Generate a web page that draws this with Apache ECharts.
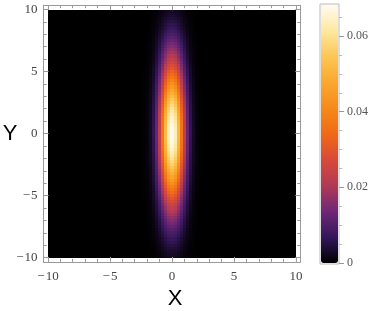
<!DOCTYPE html>
<html><head><meta charset="utf-8">
<script src="https://cdn.jsdelivr.net/npm/echarts@6/dist/echarts.min.js"></script>
<style>html,body{margin:0;padding:0;background:#fff}#c{width:374px;height:311px}</style>
</head><body><div id="c"></div><script>
// Sample x positions (cell centres)
const xCoords = [-10,-9.75,-9.5,-9.25,-9,-8.75,-8.5,-8.25,-8,-7.75,-7.5,-7.25,-7,-6.75,-6.5,-6.25,-6,-5.75,-5.5,-5.25,-5,-4.75,-4.5,-4.25,-4,-3.75,-3.5,-3.25,-3,-2.75,
 -2.5,-2.25,-2,-1.75,-1.5,-1.25,-1,-0.75,-0.5,-0.25,0,0.25,0.5,0.75,1,1.25,1.5,1.75,2,2.25,2.5,
 2.75,3,3.25,3.5,3.75,4,4.25,4.5,4.75,5,5.25,5.5,5.75,6,6.25,6.5,6.75,7,7.25,7.5,7.75,8,8.25,8.5,8.75,9,9.25,9.5,9.75,10];
// Relative brightness across x
const xRel = [0,0,0,0,0,0,0,0,0,0,0,0,0,0,0,0,0,0,0,0,0,0,0,0,0,0,0,0,0,0,
 0.001,0.004,0.013,0.04,0.09,0.19,0.34,0.54,0.76,0.93,1,0.93,0.76,0.54,0.34,0.19,0.09,0.04,0.013,0.004,0.001,
 0,0,0,0,0,0,0,0,0,0,0,0,0,0,0,0,0,0,0,0,0,0,0,0,0,0,0,0,0,0];
// Sample y positions (cell centres)
const yCoords = [-10,-9.75,-9.5,-9.25,-9,-8.75,-8.5,-8.25,-8,-7.75,-7.5,-7.25,-7,-6.75,-6.5,-6.25,-6,-5.75,-5.5,-5.25,-5,-4.75,-4.5,-4.25,-4,-3.75,-3.5,-3.25,-3,-2.75,-2.5,-2.25,-2,-1.75,-1.5,-1.25,-1,-0.75,-0.5,-0.25,0,
 0.25,0.5,0.75,1,1.25,1.5,1.75,2,2.25,2.5,2.75,3,3.25,3.5,3.75,4,4.25,4.5,4.75,5,5.25,5.5,5.75,6,6.25,6.5,6.75,7,7.25,7.5,7.75,8,8.25,8.5,8.75,9,9.25,9.5,9.75,10];
// Values along the centre column x = 0
const yPeak = [0.0025,0.003,0.0035,0.0043,0.0052,0.0062,0.0072,0.0084,0.0097,0.0111,0.0126,0.0142,0.0158,0.0175,0.0193,0.0213,0.0233,0.0254,0.0276,0.0299,
 0.0323,0.0348,0.0372,0.0397,0.0422,0.0447,0.0472,0.0497,0.052,0.0543,0.0565,0.0585,0.0604,0.0621,0.0636,0.0649,0.066,0.0669,0.0675,0.0679,0.068,
 0.0679,0.0675,0.0669,0.066,0.0649,0.0636,0.0621,0.0604,0.0585,0.0565,0.0543,0.052,0.0497,0.0472,0.0447,0.0422,0.0397,0.0372,0.0348,0.0323,
 0.0299,0.0276,0.0254,0.0233,0.0213,0.0193,0.0175,0.0158,0.0142,0.0126,0.0111,0.0097,0.0084,0.0072,0.0062,0.0052,0.0043,0.0035,0.003,0.0025];

const axisMajorTicks = [-10,-5,0,5,10];
const axisMinorTicks = [-9,-8,-7,-6,-4,-3,-2,-1,1,2,3,4,6,7,8,9];
const cbMajorTicks = [0,0.02,0.04,0.06];
const cbMinorTicks = [0.005,0.01,0.015,0.025,0.03,0.035,0.045,0.05,0.055,0.065];
const cbMax = 0.0682;
const palette = ['#000000','#34175a','#6f2777','#b03a55','#d8493a','#f06918','#f68a18','#faa82e','#fcc656','#fee8a0','#fffbf0'];

const cells = [];
for (let i = 0; i < xCoords.length; i++) {
  for (let j = 0; j < yCoords.length; j++) {
    cells.push([xCoords[i], yCoords[j], xRel[i] * yPeak[j]]);
  }
}
const halfX = 0.125, halfY = 0.125;
const minus = v => String(v).replace('-', '\u2212\u200A');
const frameCol = '#9a9a9a';
const labelFont = {fontFamily: '"Liberation Serif", "DejaVu Serif", serif', fontSize: 13, color: '#444'};

function frameAxis(dim, pos, ticks, len, withLine, withLabels) {
  return {
    type: 'value', gridIndex: 0, position: pos, min: -10.35, max: 10.35, z: 10,
    splitLine: {show: false},
    axisLine: {show: withLine, onZero: false, lineStyle: {color: frameCol, width: 1}},
    axisTick: {show: true, inside: true, length: len, customValues: ticks, lineStyle: {color: frameCol, width: 1}},
    axisLabel: withLabels ? Object.assign({show: true, customValues: ticks, formatter: minus, margin: dim === 'x' ? 8 : 6}, labelFont) : {show: false}
  };
}

const chart = echarts.init(document.getElementById('c'), null, {renderer: 'canvas'});
chart.setOption({
  animation: false,
  backgroundColor: '#fff',
  grid: [
    {left: 43.6, top: 5.2, width: 256.7, height: 256.7, containLabel: false},
    {left: 320, top: 4, width: 19, height: 260, show: true, borderColor: '#bbb', borderWidth: 1, backgroundColor: 'transparent'}
  ],
  xAxis: [
    frameAxis('x', 'bottom', axisMajorTicks, 5, true, true),
    frameAxis('x', 'bottom', axisMinorTicks, 3, false, false),
    frameAxis('x', 'top', axisMajorTicks, 5, true, false),
    frameAxis('x', 'top', axisMinorTicks, 3, false, false),
    {type: 'value', gridIndex: 1, show: false, min: 0, max: 1}
  ],
  yAxis: [
    frameAxis('y', 'left', axisMajorTicks, 5, true, true),
    frameAxis('y', 'left', axisMinorTicks, 3, false, false),
    frameAxis('y', 'right', axisMajorTicks, 5, true, false),
    frameAxis('y', 'right', axisMinorTicks, 3, false, false),
    {type: 'value', gridIndex: 1, position: 'right', min: -0.000264, max: 0.068464, z: 10,
     splitLine: {show: false},
     axisLine: {show: false, onZero: false},
     axisTick: {show: true, inside: false, length: 5, customValues: cbMajorTicks, lineStyle: {color: '#999'}},
     axisLabel: {show: true, customValues: cbMajorTicks, margin: 8, formatter: v => v === 0 ? '0' : v.toFixed(2),
       fontFamily: '"Liberation Serif", "DejaVu Serif", serif', fontSize: 12, color: '#555'}},
    {type: 'value', gridIndex: 1, position: 'right', min: -0.000264, max: 0.068464, z: 10,
     splitLine: {show: false}, axisLine: {show: false, onZero: false},
     axisTick: {show: true, inside: false, length: 3, customValues: cbMinorTicks, lineStyle: {color: '#bbb'}},
     axisLabel: {show: false}}
  ],
  visualMap: {
    type: 'continuous', seriesIndex: 0, dimension: 2, min: 0, max: cbMax,
    inRange: {color: palette}, orient: 'vertical',
    left: 321, top: 5, itemWidth: 17, itemHeight: 258, padding: 0,
    calculable: false, hoverLink: false, realtime: false
  },
  graphic: [
    {type: 'text', x: 10, y: 134, style: {text: 'Y', font: '22px "Liberation Sans", Arial, sans-serif', fill: '#000', align: 'center', verticalAlign: 'middle', textAlign: 'center', textVerticalAlign: 'middle'}},
    {type: 'text', x: 175, y: 299, style: {text: 'X', font: '22px "Liberation Sans", Arial, sans-serif', fill: '#000', align: 'center', verticalAlign: 'middle', textAlign: 'center', textVerticalAlign: 'middle'}}
  ],
  series: [{
    type: 'custom', xAxisIndex: 0, yAxisIndex: 0, data: cells, z: 2, silent: true,
    encode: {x: 0, y: 1},
    renderItem: function (params, api) {
      const x = api.value(0), y = api.value(1);
      const x0 = Math.max(-10, x - halfX), x1 = Math.min(10, x + halfX);
      const y0 = Math.max(-10, y - halfY), y1 = Math.min(10, y + halfY);
      const p0 = api.coord([x0, y1]);
      const p1 = api.coord([x1, y0]);
      const L = Math.round(p0[0]), R = Math.round(p1[0]);
      const T = Math.round(p0[1]), B = Math.round(p1[1]);
      return {
        type: 'rect',
        shape: {x: L, y: T, width: R - L, height: B - T},
        style: {fill: api.visual('color'), stroke: null, lineWidth: 0}
      };
    }
  }]
});
</script></body></html>
